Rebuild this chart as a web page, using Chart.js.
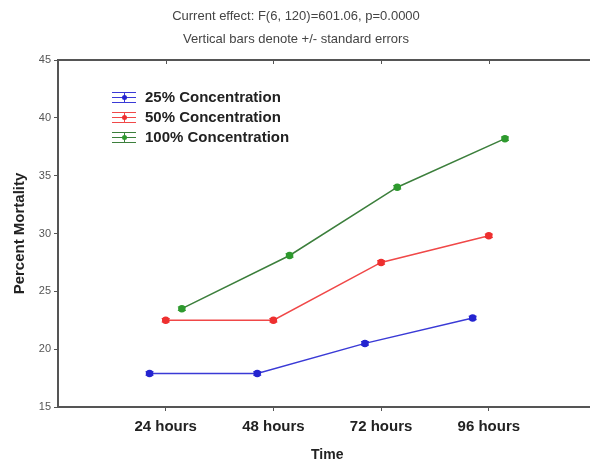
<!DOCTYPE html>
<html>
<head>
<meta charset="utf-8">
<script src="https://cdn.jsdelivr.net/npm/chart.js@4.4.0/dist/chart.umd.min.js"></script>
<style>
  html, body { margin: 0; padding: 0; background: #fff; overflow: hidden; }
  canvas { display: block; }
</style>
</head>
<body>
<canvas id="myChart" width="602" height="464"></canvas>
<script>
const timeLabels = ['24 hours', '48 hours', '72 hours', '96 hours'];
const seriesNames = ['25% Concentration', '50% Concentration', '100% Concentration'];
const mortality25 = [17.9, 17.9, 20.5, 22.7];
const mortality50 = [22.5, 22.5, 27.5, 29.8];
const mortality100 = [23.5, 28.1, 34.0, 38.2];
const stdErr25 = [0.15, 0.15, 0.15, 0.15];
const stdErr50 = [0.15, 0.15, 0.15, 0.15];
const stdErr100 = [0.15, 0.15, 0.15, 0.15];
const titleLines = ['Current effect: F(6, 120)=601.06, p=0.0000', 'Vertical bars denote +/- standard errors'];

const lineColors = ['#3a3ad6', '#f04848', '#3c7f3c'];
const markColors = ['#2525d0', '#ee3030', '#2f9a2f'];
const offsets = [-0.15, 0, 0.15];
const FONT = '"Liberation Sans", Arial, sans-serif';

function toPoints(vals, off) {
    return vals.map((v, i) => ({ x: i + 1 + off, y: v }));
}

const allVals = [mortality25, mortality50, mortality100];
const allErr = [stdErr25, stdErr50, stdErr100];

// titles, top axis line, legend and error bars
const extras = {
    id: 'extras',
    afterDraw(chart) {
        const c = chart.ctx;
        const a = chart.chartArea;
        const xs = chart.scales.x, ys = chart.scales.y;
        c.save();
        c.fillStyle = '#444';
        c.font = '13px ' + FONT;
        c.textAlign = 'center';
        c.textBaseline = 'middle';
        c.fillText(titleLines[0], 296, 16);
        c.fillText(titleLines[1], 296, 39);

        // top axis
        c.strokeStyle = '#555';
        c.lineWidth = 2;
        c.beginPath();
        c.moveTo(a.left - 1, a.top);
        c.lineTo(a.right, a.top);
        c.stroke();
        c.lineWidth = 1;
        timeLabels.forEach((t, i) => {
            const px = Math.round(xs.getPixelForValue(i + 1)) + 0.5;
            c.beginPath();
            c.moveTo(px, a.top);
            c.lineTo(px, a.top + 4);
            c.stroke();
        });

        // error bars
        allVals.forEach((vals, s) => {
            c.strokeStyle = markColors[s];
            c.lineWidth = 1;
            vals.forEach((v, i) => {
                const px = xs.getPixelForValue(i + 1 + offsets[s]);
                const hi = ys.getPixelForValue(v + allErr[s][i]);
                const lo = ys.getPixelForValue(v - allErr[s][i]);
                c.beginPath();
                c.moveTo(px, hi); c.lineTo(px, lo);
                c.moveTo(px - 4, hi); c.lineTo(px + 4, hi);
                c.moveTo(px - 4, lo); c.lineTo(px + 4, lo);
                c.stroke();
            });
        });

        // legend
        c.textAlign = 'left';
        c.font = 'bold 15px ' + FONT;
        seriesNames.forEach((name, s) => {
            const y = 97 + s * 20;
            c.strokeStyle = lineColors[s];
            c.lineWidth = 1;
            [-5, 0, 5].forEach(d => {
                c.beginPath();
                c.moveTo(112, y + d + 0.5);
                c.lineTo(136, y + d + 0.5);
                c.stroke();
            });
            c.beginPath();
            c.moveTo(124.5, y - 5); c.lineTo(124.5, y + 5);
            c.stroke();
            c.fillStyle = markColors[s];
            c.beginPath();
            c.arc(124.5, y + 0.5, 2.5, 0, Math.PI * 2);
            c.fill();
            c.fillStyle = '#222';
            c.fillText(name, 145, y + 1);
        });
        c.restore();
    }
};

const ctx = document.getElementById('myChart').getContext('2d');
const myChart = new Chart(ctx, {
    type: 'line',
    data: {
        datasets: seriesNames.map((name, s) => ({
            label: name,
            data: toPoints(allVals[s], offsets[s]),
            borderColor: lineColors[s],
            backgroundColor: markColors[s],
            pointBackgroundColor: markColors[s],
            pointBorderColor: markColors[s],
            pointRadius: 3,
            borderWidth: 1.5,
            tension: 0
        }))
    },
    options: {
        responsive: false,
        animation: false,
        layout: { padding: { top: 60, left: 0, right: 0, bottom: 0 } },
        plugins: {
            legend: { display: false },
            tooltip: { enabled: false }
        },
        scales: {
            x: {
                type: 'linear',
                min: 0,
                max: 5,
                afterBuildTicks: (scale) => {
                    scale.ticks = timeLabels.map((t, i) => ({ value: i + 1 }));
                },
                afterFit: (scale) => {
                    scale.height = 57;
                    scale.paddingLeft = 0;
                    scale.paddingRight = 0;
                },
                ticks: {
                    callback: (v) => timeLabels[v - 1],
                    color: '#222',
                    font: { family: FONT, size: 15, weight: 'bold' },
                    padding: 7,
                    maxRotation: 0
                },
                grid: { drawOnChartArea: false, drawTicks: true, tickLength: 4, color: '#555' },
                border: { display: true, color: '#555', width: 2 },
                title: {
                    display: true,
                    text: 'Time',
                    color: '#222',
                    font: { family: FONT, size: 14, weight: 'bold' },
                    padding: { top: 4, bottom: 0 }
                }
            },
            y: {
                min: 15,
                max: 45,
                afterFit: (scale) => { scale.width = 58; },
                ticks: {
                    stepSize: 5,
                    color: '#555',
                    font: { family: FONT, size: 11 },
                    padding: 3
                },
                grid: { drawOnChartArea: false, drawTicks: true, tickLength: 4, color: '#555' },
                border: { display: true, color: '#555', width: 2 },
                title: {
                    display: true,
                    text: 'Percent Mortality',
                    color: '#222',
                    font: { family: FONT, size: 15, weight: 'bold' },
                    padding: { top: 11, bottom: 0 }
                }
            }
        }
    },
    plugins: [extras]
});
</script>
</body>
</html>
